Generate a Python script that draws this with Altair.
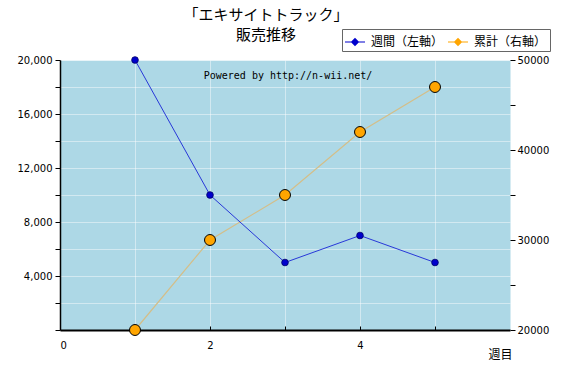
import altair as alt
import pandas as pd

weeks = [1, 2, 3, 4, 5]
weekly = [20000, 10000, 5000, 7000, 5000]
cumulative = [20000, 30000, 35000, 42000, 47000]
series_names = ["週間（左軸）", "累計（右軸）"]
series_colors = ["#0000CC", "#FFA500"]
title_lines = ["「エキサイトトラック」", "販売推移"]
x_title = "週目"
watermark = "Powered by http://n-wii.net/"

weekly_df = pd.DataFrame({"week": weeks, "value": weekly, "series": series_names[0]})
cum_df = pd.DataFrame({"week": weeks, "value": cumulative, "series": series_names[1]})

JP = "Noto Sans CJK JP"
LBL = "DejaVu Sans"

color_scale = alt.Scale(domain=series_names, range=series_colors)
legend = alt.Legend(
    title=None, orient="none", legendX=282, legendY=-31, direction="horizontal",
    symbolType="M-1,-0.06H1V0.06H-1Z M0,-0.42L0.42,0L0,0.42L-0.42,0Z",
    symbolSize=400, symbolStrokeWidth=0, symbolOpacity=1,
    labelFont=JP, labelFontSize=12, labelColor="black",
    fillColor="white", strokeColor="#666666", padding=3,
    columnPadding=4, labelOffset=6,
)

x_scale = alt.Scale(domain=[0, 6], nice=False, zero=False)
x_main_axis = alt.Axis(
    orient="bottom",
    values=[0, 1, 2, 3, 4, 5],
    labelExpr="datum.value % 2 == 0 ? format(datum.value, 'd') : ''",
    grid=True, gridColor="white", gridOpacity=0.45,
    ticks=False, domain=True, domainColor="black", domainWidth=2,
    labelFont=LBL, labelFontSize=10, labelColor="black", labelPadding=10,
    title=x_title, titleFont=JP, titleFontSize=12, titleFontWeight="normal",
    titleAlign="right", titleAnchor="end", titleX=452, titleY=28,
    titleBaseline="alphabetic", titleColor="black",
)
x_tick_axis = alt.Axis(
    orient="bottom",
    values=[1, 2, 3, 4, 5], offset=-4, tickSize=4, tickColor="black",
    domain=False, labels=False, grid=False, title=None,
)

left_axis = alt.Axis(
    values=list(range(0, 20001, 2000)),
    labelExpr="datum.value % 4000 == 0 && datum.value > 0 ? format(datum.value, ',') : ''",
    grid=True, gridColor="white", gridOpacity=0.45,
    tickSize=5, tickColor="black", domain=True, domainColor="black", domainWidth=1.5,
    labelFont=LBL, labelFontSize=10, labelColor="black", labelPadding=3,
    title=None, orient="left",
)
right_axis = alt.Axis(
    values=list(range(20000, 50001, 5000)),
    labelExpr="datum.value % 10000 == 0 ? format(datum.value, 'd') : ''",
    grid=False, tickSize=5, tickColor="black", domain=False,
    labelFont=LBL, labelFontSize=10, labelColor="black", labelPadding=2,
    title=None, orient="right",
)

y_left = alt.Y("value:Q", scale=alt.Scale(domain=[0, 20000], nice=False, zero=False), axis=left_axis)
y_right = alt.Y("value:Q", scale=alt.Scale(domain=[20000, 50000], nice=False, zero=False), axis=right_axis)

cum_base = alt.Chart(cum_df)
cum_line = cum_base.mark_line(color="#D4BE88", strokeWidth=1.2).encode(
    x=alt.X("week:Q", scale=x_scale, axis=x_tick_axis), y=y_right)
cum_pts = cum_base.mark_point(filled=True, size=120, stroke="black", strokeWidth=1, opacity=1).encode(
    x=alt.X("week:Q", scale=x_scale, axis=x_tick_axis), y=y_right,
    color=alt.Color("series:N", scale=color_scale, legend=legend))
cum_group = alt.layer(cum_line, cum_pts)

wk_base = alt.Chart(weekly_df)
wk_line = wk_base.mark_line(color="#2838D8", strokeWidth=1).encode(
    x=alt.X("week:Q", scale=x_scale, axis=x_main_axis), y=y_left)
wk_pts = wk_base.mark_point(filled=True, size=45, stroke="#000066", strokeWidth=0.8, opacity=1).encode(
    x=alt.X("week:Q", scale=x_scale, axis=x_main_axis), y=y_left,
    color=alt.Color("series:N", scale=color_scale, legend=legend))
wk_group = alt.layer(wk_line, wk_pts)

wm = alt.Chart(alt.Data(values=[{}])).mark_text(
    font="DejaVu Sans Mono", fontSize=10, color="black", align="center", baseline="middle"
).encode(x=alt.value(228), y=alt.value(16), text=alt.value(watermark))

chart = alt.layer(cum_group, wk_group, wm).resolve_scale(
    y="independent"
).resolve_axis(
    x="independent", y="independent"
).properties(
    width=450, height=270,
    autosize=alt.AutoSizeParams(type="none"),
    padding={"left": 60, "top": 60, "right": 60, "bottom": 40},
    view=alt.ViewBackground(fill="#ADD8E6", stroke="transparent"),
    title=alt.TitleParams(
        text=title_lines, font=JP, fontSize=15, fontWeight="normal", color="black",
        anchor="middle", dx=-19, dy=29, offset=15, lineHeight=20,
    ),
).configure_view(
    fill="#ADD8E6", stroke="transparent"
).configure(background="white")

chart.save("out.html", embed_options={"renderer": "svg", "actions": False})
